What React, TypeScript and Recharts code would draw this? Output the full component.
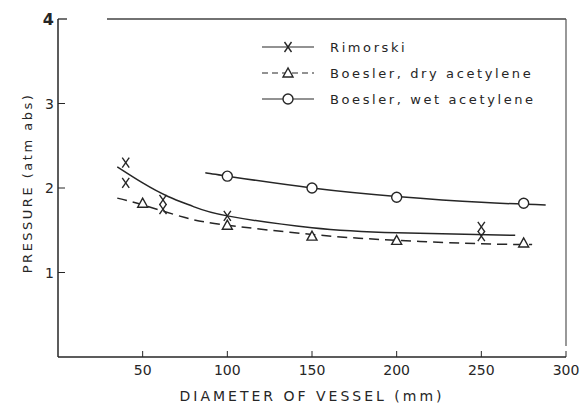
import React from "react";
import {
  ComposedChart,
  Line,
  Scatter,
  XAxis,
  YAxis,
  ReferenceLine,
} from "recharts";

// measured points (diameter mm, pressure atm abs)
const rimorskiD = [40, 40, 62, 62, 100, 250, 250];
const rimorskiP = [2.3, 2.06, 1.86, 1.75, 1.67, 1.54, 1.43];
const dryD = [50, 100, 150, 200, 275];
const dryP = [1.82, 1.56, 1.43, 1.38, 1.35];
const wetD = [100, 150, 200, 275];
const wetP = [2.14, 2.0, 1.89, 1.82];

// fitted curves
const rimorskiCurveD = [35, 50, 65, 80, 100, 150, 200, 270];
const rimorskiCurveP = [2.25, 2.06, 1.9, 1.78, 1.67, 1.53, 1.47, 1.44];
const dryCurveD = [35, 50, 75, 100, 150, 200, 250, 280];
const dryCurveP = [1.88, 1.8, 1.65, 1.56, 1.45, 1.38, 1.34, 1.33];
const wetCurveD = [87, 100, 150, 200, 250, 288];
const wetCurveP = [2.18, 2.14, 2.0, 1.9, 1.83, 1.8];

const xTicks = [50, 100, 150, 200, 250, 300];
const yTicks = [1, 2, 3, 4];

const seriesNames = ["Rimorski", "Boesler, dry acetylene", "Boesler, wet acetylene"];

const INK = "#262626";
const FONT = "'DejaVu Sans', sans-serif";

const pts = (xs: number[], ys: number[]) => xs.map((x, i) => ({ x, y: ys[i] }));

const XMark = ({ cx, cy }: any) => (
  <g stroke={INK} strokeWidth={1.4}>
    <line x1={cx - 3.5} y1={cy - 5} x2={cx + 3.5} y2={cy + 5} />
    <line x1={cx + 3.5} y1={cy - 5} x2={cx - 3.5} y2={cy + 5} />
  </g>
);

const TriMark = ({ cx, cy }: any) => (
  <polygon
    points={`${cx},${cy - 5} ${cx - 5},${cy + 4} ${cx + 5},${cy + 4}`}
    fill="#fff"
    stroke={INK}
    strokeWidth={1.4}
  />
);

const CircMark = ({ cx, cy }: any) => (
  <circle cx={cx} cy={cy} r={5} fill="#fff" stroke={INK} strokeWidth={1.4} />
);

// ticks point into the plot on both axes
const XTick = ({ x, y, payload }: any) => (
  <g>
    <line x1={x} y1={y} x2={x} y2={y - 6} stroke={INK} strokeWidth={1} />
    <text
      x={x}
      y={y + 18}
      textAnchor="middle"
      fontFamily={FONT}
      fontSize={14}
      fill={INK}
    >
      {payload.value}
    </text>
  </g>
);

const YTick = ({ x, y, payload }: any) => {
  const top = payload.value === 4;
  return (
    <g>
      {!top && <line x1={x} y1={y} x2={x + 7} y2={y} stroke={INK} strokeWidth={1} />}
      <text
        x={x - 4}
        y={y + (top ? 6 : 5)}
        textAnchor="end"
        fontFamily={FONT}
        fontSize={top ? 16 : 14}
        fontWeight={top ? "bold" : "normal"}
        fill={INK}
      >
        {payload.value}
      </text>
    </g>
  );
};

const YLabel = () => (
  <text
    x={27}
    y={183}
    transform="rotate(-90, 27, 183)"
    textAnchor="middle"
    dominantBaseline="central"
    fontFamily={FONT}
    fontSize={13}
    letterSpacing={2.5}
    fill={INK}
  >
    PRESSURE (atm abs)
  </text>
);

// legend drawn on top of the plot, upper right like the original
function LegendBox() {
  const marks = [XMark, TriMark, CircMark];
  const dashes = [undefined, "6 4", undefined];
  return (
    <div style={{ position: "absolute", left: 259, top: 34 }}>
      {seriesNames.map((name, i) => {
        const M = marks[i];
        return (
          <div
            key={name}
            style={{ display: "flex", alignItems: "center", height: 26 }}
          >
            <svg width={62} height={16}>
              <line
                x1={3}
                y1={8}
                x2={55}
                y2={8}
                stroke={INK}
                strokeWidth={1.2}
                strokeDasharray={dashes[i]}
              />
              <M cx={29} cy={8} />
            </svg>
            <span
              style={{
                fontFamily: FONT,
                fontSize: 13,
                letterSpacing: 2.6,
                color: INK,
                marginLeft: 9,
              }}
            >
              {name}
            </span>
          </div>
        );
      })}
    </div>
  );
}

export default function App() {
  return (
    <div style={{ position: "absolute", left: 0, top: 0, background: "#fff" }}>
      <ComposedChart
        width={584}
        height={404}
        margin={{ top: 19, right: 18, bottom: 0, left: 0 }}
      >
        <XAxis
          type="number"
          dataKey="x"
          domain={[0, 300]}
          ticks={xTicks}
          tickSize={0}
          tickMargin={0}
          tickLine={false}
          tick={<XTick />}
          height={47}
          axisLine={{ stroke: INK, strokeWidth: 1.5 }}
          allowDataOverflow
          label={{
            value: "DIAMETER OF VESSEL (mm)",
            position: "insideBottom",
            offset: 3,
            style: { fontFamily: FONT, fontSize: 14, letterSpacing: 3, fill: INK },
          }}
        />
        <YAxis
          type="number"
          dataKey="y"
          domain={[0, 4]}
          ticks={yTicks}
          tickSize={0}
          tickMargin={0}
          tickLine={false}
          tick={<YTick />}
          width={58}
          axisLine={{ stroke: INK, strokeWidth: 1.5 }}
          label={<YLabel />}
        />
        <ReferenceLine y={4} stroke="#444" strokeWidth={1.3} strokeDasharray="9 40 1000" />
        <ReferenceLine x={300} stroke="#555" strokeWidth={1.2} strokeDasharray="0 11 1000" />
        <Line
          data={pts(rimorskiCurveD, rimorskiCurveP)}
          dataKey="y"
          type="natural"
          stroke={INK}
          strokeWidth={1.5}
          dot={false}
          activeDot={false}
          isAnimationActive={false}
        />
        <Line
          data={pts(dryCurveD, dryCurveP)}
          dataKey="y"
          type="natural"
          stroke={INK}
          strokeWidth={1.5}
          strokeDasharray="10 6"
          dot={false}
          activeDot={false}
          isAnimationActive={false}
        />
        <Line
          data={pts(wetCurveD, wetCurveP)}
          dataKey="y"
          type="natural"
          stroke={INK}
          strokeWidth={1.5}
          dot={false}
          activeDot={false}
          isAnimationActive={false}
        />
        <Scatter
          name={seriesNames[0]}
          data={pts(rimorskiD, rimorskiP)}
          shape={<XMark />}
          isAnimationActive={false}
        />
        <Scatter
          name={seriesNames[1]}
          data={pts(dryD, dryP)}
          shape={<TriMark />}
          isAnimationActive={false}
        />
        <Scatter
          name={seriesNames[2]}
          data={pts(wetD, wetP)}
          shape={<CircMark />}
          isAnimationActive={false}
        />
      </ComposedChart>
      <LegendBox />
    </div>
  );
}
